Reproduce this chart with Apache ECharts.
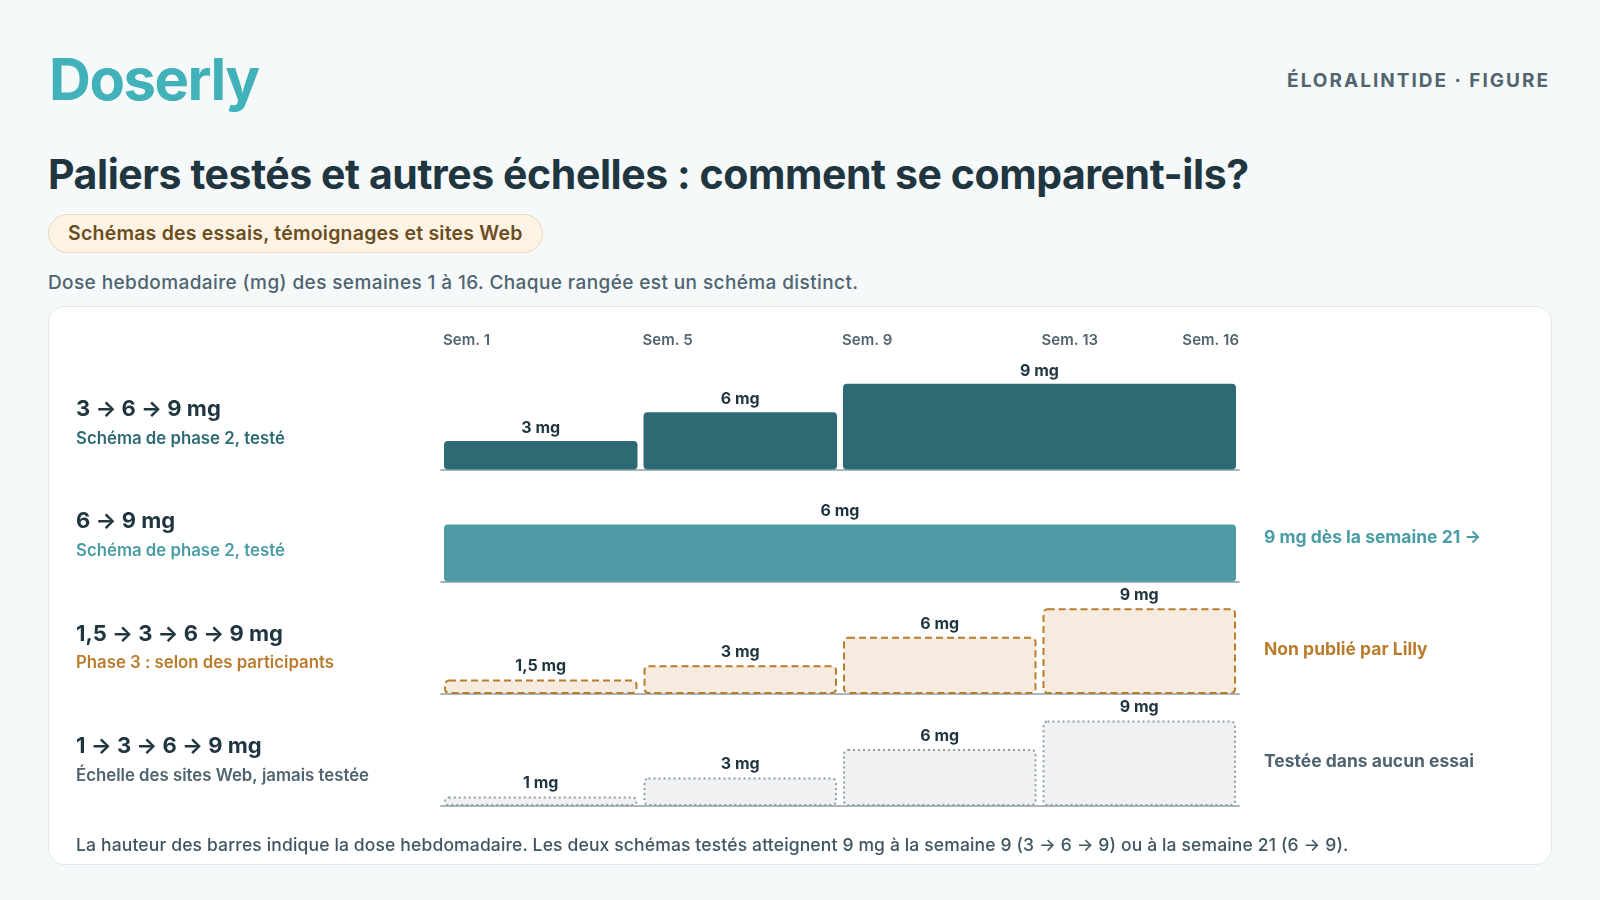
<!DOCTYPE html>
<html>
<head>
<meta charset="utf-8">
<script src="https://cdn.jsdelivr.net/npm/echarts@6/dist/echarts.min.js"></script>
<style>
  html, body { margin:0; padding:0; width:1600px; height:900px; background:#f5f9fa; overflow:hidden; font-family: Inter, "Noto Sans", sans-serif; }
  .abs { position:absolute; white-space:nowrap; }
  #logo { left:49px; top:50px; font-size:58px; line-height:58px; font-weight:700; color:#41b2b9; letter-spacing:-1.5px; }
  #kicker { right:50px; top:71px; font-size:19px; line-height:19px; font-weight:700; color:#52656f; letter-spacing:2px; }
  #title { left:48px; top:154px; font-size:41px; line-height:41px; font-weight:700; color:#1f3540; letter-spacing:-0.43px; }
  #badge { left:48px; top:214px; height:37px; line-height:37px; padding:0 19px; font-size:19.5px; font-weight:600; color:#6b4e1f; background:#fdf3e4; border:1px solid #ecd9b8; border-radius:20px; letter-spacing:0.22px; }
  #sub { left:48px; top:271px; font-size:19px; line-height:24px; font-weight:500; color:#4f6470; letter-spacing:0.4px; }
  #card { left:48px; top:306px; width:1502px; height:557px; background:#ffffff; border:1.5px solid #e0e8eb; border-radius:16px; }
  #note { left:76px; top:834px; font-size:17.5px; line-height:22px; font-weight:500; color:#3f5561; letter-spacing:0.15px; }
  #chart { position:absolute; left:0; top:0; width:1600px; height:900px; }
</style>
</head>
<body>
<div id="logo" class="abs">Doserly</div>
<div id="kicker" class="abs">ÉLORALINTIDE · FIGURE</div>
<div id="title" class="abs">Paliers testés et autres échelles : comment se comparent-ils?</div>
<div id="badge" class="abs">Schémas des essais, témoignages et sites Web</div>
<div id="sub" class="abs">Dose hebdomadaire (mg) des semaines 1 à 16. Chaque rangée est un schéma distinct.</div>
<div id="card" class="abs"></div>
<div id="chart"></div>
<div id="note" class="abs">La hauteur des barres indique la dose hebdomadaire. Les deux schémas testés atteignent 9 mg à la semaine 9 (3 → 6 → 9) ou à la semaine 21 (6 → 9).</div>
<script>
// ---- Data ----
const weekTicks = [1, 5, 9, 13, 17];
const weekTickLabels = ['Sem. 1', 'Sem. 5', 'Sem. 9', 'Sem. 13', 'Sem. 16'];

const rowTitles = ['3 → 6 → 9 mg', '6 → 9 mg', '1,5 → 3 → 6 → 9 mg', '1 → 3 → 6 → 9 mg'];
const rowSubtitles = ['Schéma de phase 2, testé', 'Schéma de phase 2, testé', 'Phase 3 : selon des participants', 'Échelle des sites Web, jamais testée'];
const rowNotes = ['', '9 mg dès la semaine 21 →', 'Non publié par Lilly', 'Testée dans aucun essai'];

// step boundaries (week start of each step, last = end of week 16) and doses (mg)
const weeks_3_6_9 = [1, 5, 9, 17];
const doses_3_6_9 = [3, 6, 9];
const weeks_6_9 = [1, 17];
const doses_6_9 = [6];
const weeks_15_3_6_9 = [1, 5, 9, 13, 17];
const doses_15_3_6_9 = [1.5, 3, 6, 9];
const weeks_1_3_6_9 = [1, 5, 9, 13, 17];
const doses_1_3_6_9 = [1, 3, 6, 9];

const rowWeeks = [weeks_3_6_9, weeks_6_9, weeks_15_3_6_9, weeks_1_3_6_9];
const rowDoses = [doses_3_6_9, doses_6_9, doses_15_3_6_9, doses_1_3_6_9];

// ---- Styles / layout ----
const FONT = 'Inter, "Noto Sans", sans-serif';
const rowStyles = [
  { fill: '#2e6a74', stroke: null, dash: null, sub: '#2e6a74', note: '#2e6a74' },
  { fill: '#4d9aa4', stroke: null, dash: null, sub: '#4a9ca5', note: '#4a9ca5' },
  { fill: '#f5ebde', stroke: '#b97c2c', dash: [7, 4], sub: '#b97c2c', note: '#b97c2c' },
  { fill: '#eff1f3', stroke: '#939fa7', dash: [2, 3], sub: '#4f6470', note: '#4f6470' }
];
const baselines = [469.5, 581.7, 693.9, 806.1];
const gridH = 85.7;
const gridLeft = 441, gridWidth = 798;
const inset = 3;

function segData(i) {
  const w = rowWeeks[i], d = rowDoses[i];
  return d.map((v, k) => [w[k], w[k + 1], v]);
}

function fmtDose(v) { return String(v).replace('.', ',') + ' mg'; }

function makeRender(st) {
  return function (params, api) {
    const s = api.value(0), e = api.value(1), d = api.value(2);
    const p0 = api.coord([s, 0]);
    const p1 = api.coord([e, d]);
    const x = p0[0] + inset, w = p1[0] - p0[0] - 2 * inset, y = p1[1], h = p0[1] - p1[1];
    const lw = st.stroke ? 2 : 0;
    const rect = {
      type: 'rect',
      shape: { x: x + lw / 2, y: y + lw / 2, width: w - lw, height: h - lw, r: 4 },
      style: { fill: st.fill, stroke: st.stroke || null, lineWidth: lw, lineDash: st.dash || null }
    };
    const label = {
      type: 'text',
      style: {
        text: fmtDose(d), x: x + w / 2, y: y - 5, align: 'center', verticalAlign: 'bottom',
        font: '700 16px ' + FONT, fill: '#1f3540'
      }
    };
    return { type: 'group', children: [rect, label] };
  };
}

const grids = [], xAxes = [], yAxes = [], series = [], graphics = [];
baselines.forEach((b, i) => {
  grids.push({ left: gridLeft, width: gridWidth, top: b - gridH, height: gridH });
  xAxes.push({
    type: 'value', gridIndex: i, min: 1, max: 17, position: 'bottom',
    axisLine: { show: true, lineStyle: { color: '#a9b6bd', width: 2 } },
    axisTick: { show: false }, axisLabel: { show: false }, splitLine: { show: false }
  });
  yAxes.push({ type: 'value', gridIndex: i, min: 0, max: 9, show: false, splitLine: { show: false } });
  series.push({
    type: 'custom', xAxisIndex: i, yAxisIndex: i, clip: false,
    renderItem: makeRender(rowStyles[i]), data: segData(i),
    encode: { x: [0, 1], y: 2 }
  });
  graphics.push({
    type: 'text', left: 76, top: b - 58 - 13,
    style: { text: rowTitles[i], font: '700 22px ' + FONT, fill: '#1f3540' }
  });
  graphics.push({
    type: 'text', left: 76, top: b - 28 - 11,
    style: { text: rowSubtitles[i], font: '600 16.8px ' + FONT, fill: rowStyles[i].sub }
  });
  if (rowNotes[i]) {
    graphics.push({
      type: 'text', left: 1264, top: b - 42 - 11,
      style: { text: rowNotes[i], font: '700 17.5px ' + FONT, fill: rowStyles[i].note }
    });
  }
});

// top week labels
xAxes.push({
  type: 'value', gridIndex: 0, min: 1, max: 17, interval: 4, position: 'top',
  axisLine: { show: false }, axisTick: { show: false }, splitLine: { show: false },
  axisLabel: {
    show: true, margin: 36, align: 'left', alignMaxLabel: 'right', padding: [0, 0, 0, 2],
    color: '#52656f', fontSize: 15, fontWeight: 600, fontFamily: FONT,
    formatter: function (v) { const k = weekTicks.indexOf(v); return k >= 0 ? weekTickLabels[k] : ''; }
  }
});

const chart = echarts.init(document.getElementById('chart'), null, { renderer: 'canvas' });
chart.setOption({
  animation: false,
  backgroundColor: 'transparent',
  grid: grids,
  xAxis: xAxes,
  yAxis: yAxes,
  series: series,
  graphic: graphics
});
</script>
</body>
</html>
